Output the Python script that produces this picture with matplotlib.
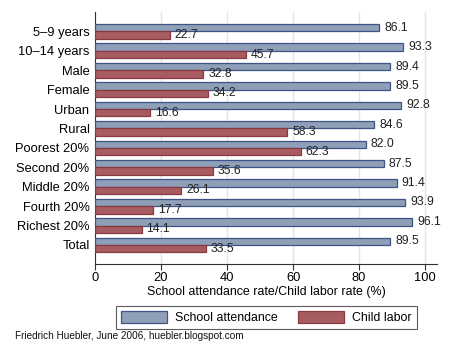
import matplotlib
matplotlib.use("Agg")
import matplotlib.pyplot as plt
import numpy as np

categories = ["5\u20139 years", "10\u201314 years", "Male", "Female", "Urban", "Rural",
              "Poorest 20%", "Second 20%", "Middle 20%", "Fourth 20%", "Richest 20%", "Total"]
attendance = [86.1, 93.3, 89.4, 89.5, 92.8, 84.6, 82.0, 87.5, 91.4, 93.9, 96.1, 89.5]
child_labor = [22.7, 45.7, 32.8, 34.2, 16.6, 58.3, 62.3, 35.6, 26.1, 17.7, 14.1, 33.5]
xticks = [0, 20, 40, 60, 80, 100]

plt.rcParams["font.family"] = ["Liberation Sans", "DejaVu Sans"]

blue_fill, blue_edge = "#909fb8", "#3c5584"
red_fill, red_edge = "#a65c61", "#8a3a40"

fig = plt.figure(figsize=(4.5, 3.6), dpi=100)
ax = fig.add_axes([0.2111, 0.2667, 0.76, 0.70])

y = np.arange(len(categories))
h = 0.38
b1 = ax.barh(y - h / 2, attendance, height=h, color=blue_fill, edgecolor=blue_edge,
             linewidth=0.9, label="School attendance", zorder=3)
b2 = ax.barh(y + h / 2, child_labor, height=h, color=red_fill, edgecolor=red_edge,
             linewidth=0.9, label="Child labor", zorder=3)

for yi, v in zip(y, attendance):
    ax.text(v + 1.5, yi - h / 2, f"{v:.1f}", va="center", ha="left", fontsize=8.8, color="#222222")
for yi, v in zip(y, child_labor):
    ax.text(v + 1.5, yi + h / 2, f"{v:.1f}", va="center", ha="left", fontsize=8.8, color="#222222")

ax.set_ylim(len(categories) - 0.02, -1.0)
ax.set_yticks(y)
ax.set_yticklabels(categories, fontsize=9.3)
ax.tick_params(axis="y", length=0, pad=4)
ax.set_xlim(0, 103.6)
ax.set_xticks(xticks)
ax.tick_params(axis="x", labelsize=9.3, length=4, color="#333333", pad=2)
ax.set_xlabel("School attendance rate/Child labor rate (%)", fontsize=8.9, labelpad=1)
ax.grid(axis="x", color="#e4e4ee", linewidth=1.0, zorder=0)
for s in ["top", "right"]:
    ax.spines[s].set_visible(False)
for s in ["left", "bottom"]:
    ax.spines[s].set_color("#333333")

leg = fig.legend(handles=[b1, b2], loc="center", bbox_to_anchor=(0.592, 0.118),
                 ncol=2, fontsize=8.9, frameon=True, fancybox=False, edgecolor="#333333",
                 handlelength=3.7, handleheight=1.05, columnspacing=1.6, borderpad=0.4,
                 handletextpad=0.7)
leg.get_frame().set_linewidth(0.8)

fig.text(0.033, 0.058, "Friedrich Huebler, June 2006, huebler.blogspot.com", fontsize=7.2, color="#111111")

fig.savefig("out.png", dpi=100)
